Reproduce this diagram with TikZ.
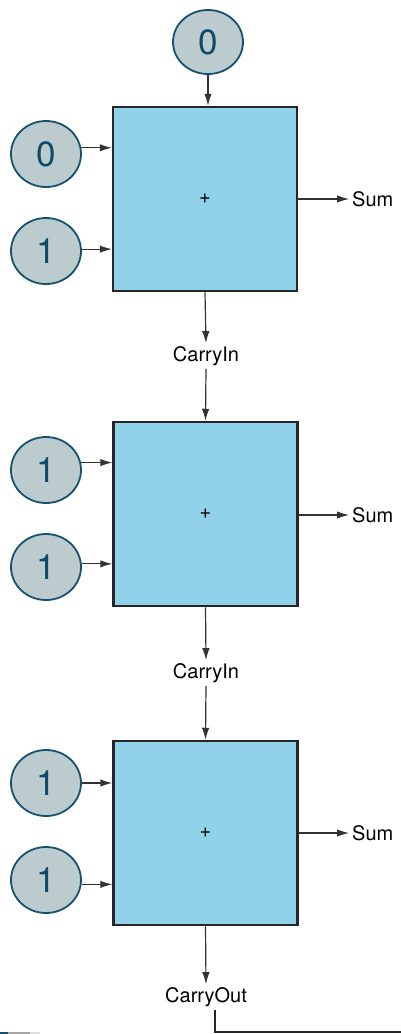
\documentclass[tikz,border=0pt]{standalone}
\usepackage{fontspec}
\setmainfont{TeX Gyre Heros}
\usetikzlibrary{arrows.meta,shapes.geometric}
\definecolor{boxfill}{RGB}{145,209,233}
\definecolor{circfill}{RGB}{188,204,206}
\definecolor{circline}{RGB}{22,82,112}
\definecolor{digit}{RGB}{14,74,106}
\begin{document}
\begin{tikzpicture}[x=1pt,y=-1pt,
  adder/.style={draw=black!85, line width=2.5pt, fill=boxfill, minimum width=184pt, minimum height=184pt, inner sep=0pt, font=\fontsize{20}{24}\selectfont},
  bit/.style={ellipse, draw=circline, line width=1.8pt, fill=circfill, minimum width=70pt, minimum height=66pt, inner sep=0pt, text=digit, font=\fontsize{35}{40}\selectfont},
  lbl/.style={font=\fontsize{20}{24}\selectfont, inner sep=3pt},
  arr/.style={draw=black!80, line width=1.2pt, -{Latex[length=12pt,width=7.5pt]}},
  wire/.style={draw=black!85, line width=1.2pt}]
\useasboundingbox (0,0) rectangle (401,1034);
\fill[white] (0,0) rectangle (401,1034);

\node[adder] (b1) at (205,199) {+};
\node[adder] (b2) at (205.5,514) {+};
\node[adder] (b3) at (205.5,833) {+};

\node[bit, minimum height=64pt] (t) at (208,42) {0};
\node[bit] (a1) at (46,154) {0};
\node[bit] (a2) at (46,251) {1};
\node[bit] (a3) at (46,470) {1};
\node[bit] (a4) at (46,567) {1};
\node[bit] (a5) at (46,783) {1};
\node[bit] (a6) at (46,880) {1};

\node[lbl, anchor=west] (s1) at (349,199) {Sum};
\node[lbl, anchor=west] (s2) at (349,515) {Sum};
\node[lbl, anchor=west] (s3) at (349,833) {Sum};

\node[lbl] (c1) at (206,356) {CarryIn};
\node[lbl] (c2) at (206,673) {CarryIn};
\node[lbl] (co) at (206,997) {CarryOut};

\draw[arr] (t.south) -- (t.south |- b1.north);
\draw[arr] (a1.10) -- (a1.10 -| b1.west);
\draw[arr] (a2.3) -- (a2.3 -| b1.west);
\draw[arr] (a3.12) -- (a3.12 -| b2.west);
\draw[arr] (a4.5) -- (a4.5 -| b2.west);
\draw[arr] (a5.east) -- (a5.east -| b3.west);
\draw[arr] (a6.-7) -- (a6.-7 -| b3.west);

\draw[arr] (b1.east |- s1.west) -- (s1.west);
\draw[arr] (b2.east |- s2.west) -- (s2.west);
\draw[arr] (b3.east |- s3.west) -- (s3.west);

\draw[arr] (b1.south) -- (c1.north);
\draw[arr] (c1.south) -- (b2.north);
\draw[arr] (b2.south) -- (c2.north);
\draw[arr] (c2.south) -- (b3.north);
\draw[arr] (b3.south) -- (co.north);

\coordinate (e) at (405,1032);
\draw[wire] ([xshift=9pt]co.south) |- (e);

\draw[circline, line width=1.5pt] (0,1033) -- (8,1033);
\draw[gray!70, line width=1.5pt] (8,1033) -- (30,1033);
\draw[gray!25, line width=1.5pt] (30,1033) -- (40,1033);
\end{tikzpicture}
\end{document}
